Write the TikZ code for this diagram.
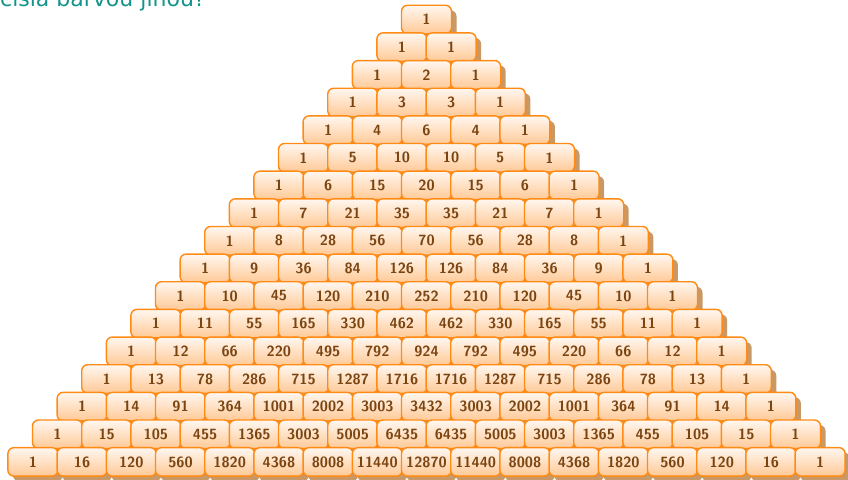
\documentclass[tikz,border=0pt]{standalone}
\usepackage{fontspec}
\newfontfamily\titlefont{DejaVu Sans}
\usetikzlibrary{shadows}
\definecolor{boxedge}{HTML}{FF8A14}
\definecolor{boxtop}{HTML}{FFF7F0}
\definecolor{boxbot}{HTML}{FFC996}
\definecolor{numtext}{HTML}{7B4512}
\definecolor{shad}{HTML}{C89866}
\definecolor{titleteal}{HTML}{14948A}
\tikzset{
  cell/.style={draw=boxedge, line width=1.4pt, rounded corners=6pt,
    minimum width=50pt, minimum height=28.5pt, inner sep=0pt,
    top color=boxtop, bottom color=boxbot,
    drop shadow={shadow xshift=5pt, shadow yshift=-5pt, fill=shad, opacity=1},
    font=\sffamily\bfseries\fontsize{14.8}{16}\selectfont, text=numtext},
  title/.style={anchor=base west, inner sep=0pt, text=titleteal,
    font=\titlefont\fontsize{22}{24}\selectfont}
}
\begin{document}
\begin{tikzpicture}[x=1pt,y=-1pt]
\useasboundingbox (0,0) rectangle (848,479);
\node[title] (t) at (0,6) {čísla barvou jinou?};
\foreach \row [count=\r from 0] in {
  {1},
  {1,1},
  {1,2,1},
  {1,3,3,1},
  {1,4,6,4,1},
  {1,5,10,10,5,1},
  {1,6,15,20,15,6,1},
  {1,7,21,35,35,21,7,1},
  {1,8,28,56,70,56,28,8,1},
  {1,9,36,84,126,126,84,36,9,1},
  {1,10,45,120,210,252,210,120,45,10,1},
  {1,11,55,165,330,462,462,330,165,55,11,1},
  {1,12,66,220,495,792,924,792,495,220,66,12,1},
  {1,13,78,286,715,1287,1716,1716,1287,715,286,78,13,1},
  {1,14,91,364,1001,2002,3003,3432,3003,2002,1001,364,91,14,1},
  {1,15,105,455,1365,3003,5005,6435,6435,5005,3003,1365,455,105,15,1},
  {1,16,120,560,1820,4368,8008,11440,12870,11440,8008,4368,1820,560,120,16,1}}{
  \foreach \v [count=\k from 0] in \row {
    \node[cell] (n-\r-\k) at ({426.5 + (\k - \r/2)*49.2}, {19.5 + \r*27.65}) {\v};
  }
}
\end{tikzpicture}
\end{document}
